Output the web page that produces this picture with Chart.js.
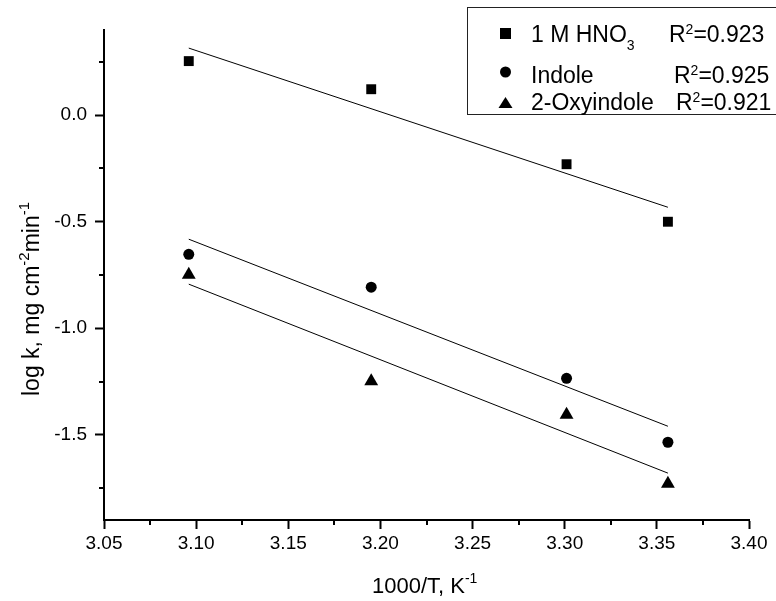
<!DOCTYPE html>
<html>
<head>
<meta charset="utf-8">
<script src="https://cdn.jsdelivr.net/npm/chart.js@4/dist/chart.umd.min.js"></script>
<style>
  html, body { margin: 0; padding: 0; background: #fff; }
  #wrap { width: 776px; height: 601px; position: relative; }
</style>
</head>
<body>
<div id="wrap"><canvas id="arrhenius"></canvas></div>
<script>
// Data
const xValues = [3.096, 3.195, 3.301, 3.356];
const hno3Values = [0.254, 0.122, -0.23, -0.50];
const indoleValues = [-0.653, -0.807, -1.235, -1.535];
const oxyindoleValues = [-0.749, -1.249, -1.406, -1.730];

// Linear fit lines (end points)
const fitX = [3.096, 3.356];
const hno3Fit = [0.315, -0.432];
const indoleFit = [-0.582, -1.46];
const oxyindoleFit = [-0.793, -1.68];

// Ticks
const xTickValues = [3.05, 3.075, 3.10, 3.125, 3.15, 3.175, 3.20, 3.225, 3.25, 3.275, 3.30, 3.325, 3.35, 3.375, 3.40];
const yTickValues = [-1.75, -1.5, -1.25, -1.0, -0.75, -0.5, -0.25, 0.0, 0.25];

// Legend
const legendNames = ["1 M HNO", "Indole", "2-Oxyindole"];
const legendR2 = ["0.923", "0.925", "0.921"];

const FONT = "'Liberation Sans', Arial, Helvetica, sans-serif";

function toPoints(xs, ys){
  return xs.map((x, i) => ({x: x, y: ys[i]}));
}

function isMajor(v, step){
  let r = v / step;
  return Math.abs(r - Math.round(r)) < 1e-6;
}

/**
 * Draws text pieces (normal / super / subscript) one after another.
 */
function drawPieces(ctx, pieces, x, y){
  pieces.forEach(p => {
    ctx.font = p.size + "px " + FONT;
    ctx.fillText(p.text, x, y + (p.dy || 0));
    x += ctx.measureText(p.text).width;
  });
  return x;
}

function drawMarker(ctx, style, x, y){
  ctx.beginPath();
  if(style == "rect"){
    ctx.rect(x - 5.5, y - 5.5, 11, 11);
  } else if(style == "circle"){
    ctx.arc(x, y, 5.5, 0, Math.PI * 2);
  } else {
    ctx.moveTo(x, y - 6);
    ctx.lineTo(x + 7, y + 5);
    ctx.lineTo(x - 7, y + 5);
    ctx.closePath();
  }
  ctx.fill();
}

const decorations = {
  id: "decorations",
  afterDraw(chart){
    const ctx = chart.ctx;
    const xs = chart.scales.x;
    const ys = chart.scales.y;
    ctx.save();
    ctx.fillStyle = "#000";
    ctx.strokeStyle = "#000";

    // minor ticks (shorter than the major ones)
    ctx.lineWidth = 2;
    ctx.beginPath();
    xTickValues.filter(v => !isMajor(v, 0.05)).forEach(v => {
      let px = Math.round(xs.getPixelForValue(v));
      ctx.moveTo(px, xs.top);
      ctx.lineTo(px, xs.top + 5);
    });
    yTickValues.filter(v => !isMajor(v, 0.5)).forEach(v => {
      let py = Math.round(ys.getPixelForValue(v));
      ctx.moveTo(ys.right, py);
      ctx.lineTo(ys.right - 5, py);
    });
    ctx.stroke();

    // axis titles
    ctx.textBaseline = "alphabetic";
    ctx.textAlign = "left";
    drawPieces(ctx, [
      {text: "1000/T, K", size: 22},
      {text: "-1", size: 14, dy: -10}
    ], 372, 593);

    ctx.save();
    ctx.translate(39, 396);
    ctx.rotate(-Math.PI / 2);
    drawPieces(ctx, [
      {text: "log k, mg cm", size: 23},
      {text: "-2", size: 15, dy: -10},
      {text: "min", size: 23},
      {text: "-1", size: 15, dy: -10}
    ], 0, 0);
    ctx.restore();

    // legend box
    ctx.lineWidth = 1;
    ctx.strokeStyle = "#222";
    ctx.strokeRect(467.5, 7.5, 320, 107);

    const rowY = [42, 83, 110];
    const markY = [33.5, 72, 103];
    const styles = ["rect", "circle", "triangle"];
    const rX = [669, 674, 676];
    legendNames.forEach((name, i) => {
      ctx.fillStyle = "#000";
      drawMarker(ctx, styles[i], 505.5, markY[i]);
      let pieces = [{text: name, size: 23}];
      if(i == 0){ pieces.push({text: "3", size: 14, dy: 8}); }
      drawPieces(ctx, pieces, 531, rowY[i]);
      drawPieces(ctx, [
        {text: "R", size: 23},
        {text: "2", size: 14, dy: -8},
        {text: "=" + legendR2[i], size: 23}
      ], rX[i], rowY[i]);
    });
    ctx.restore();
  }
};

const ctx = document.getElementById("arrhenius");

const scatterBase = {
  showLine: false,
  backgroundColor: "#000",
  borderColor: "#000",
  borderWidth: 0
};
const lineBase = {
  showLine: true,
  borderColor: "#000",
  borderWidth: 1,
  pointRadius: 0,
  fill: false
};

new Chart(ctx, {
  type: "scatter",
  data: {
    datasets: [
      Object.assign({label: "1 M HNO3 fit", data: toPoints(fitX, hno3Fit)}, lineBase),
      Object.assign({label: "Indole fit", data: toPoints(fitX, indoleFit)}, lineBase),
      Object.assign({label: "2-Oxyindole fit", data: toPoints(fitX, oxyindoleFit)}, lineBase),
      Object.assign({label: "1 M HNO3", data: toPoints(xValues, hno3Values),
        pointStyle: "rect", pointRadius: 7}, scatterBase),
      Object.assign({label: "Indole", data: toPoints(xValues, indoleValues),
        pointStyle: "circle", pointRadius: 5.5}, scatterBase),
      Object.assign({label: "2-Oxyindole", data: toPoints(xValues, oxyindoleValues),
        pointStyle: "triangle", pointRadius: 8}, scatterBase)
    ]
  },
  options: {
    responsive: true,
    maintainAspectRatio: false,
    animation: false,
    layout: { padding: {top: 30, right: 27, left: 0, bottom: 0} },
    plugins: {
      legend: { display: false },
      tooltip: { enabled: false }
    },
    scales: {
      x: {
        type: "linear",
        min: 3.05,
        max: 3.40,
        afterBuildTicks: (scale) => { scale.ticks = xTickValues.map(v => ({value: v})); },
        afterFit: (scale) => { scale.height = 81; },
        border: { display: true, color: "#000", width: 2 },
        grid: {
          drawOnChartArea: false,
          drawTicks: true,
          tickLength: 9,
          tickWidth: 2,
          tickColor: (c) => isMajor(c.tick.value, 0.05) ? "#000" : "rgba(0,0,0,0)"
        },
        ticks: {
          color: "#000",
          padding: 3,
          maxRotation: 0,
          autoSkip: false,
          font: { family: FONT, size: 19 },
          callback: (v) => isMajor(v, 0.05) ? v.toFixed(2) : ""
        }
      },
      y: {
        type: "linear",
        min: -1.9,
        max: 0.4,
        afterBuildTicks: (scale) => { scale.ticks = yTickValues.map(v => ({value: v})); },
        afterFit: (scale) => { scale.width = 104; },
        border: { display: true, color: "#000", width: 2 },
        grid: {
          drawOnChartArea: false,
          drawTicks: true,
          tickLength: 9,
          tickWidth: 2,
          tickColor: (c) => isMajor(c.tick.value, 0.5) ? "#000" : "rgba(0,0,0,0)"
        },
        ticks: {
          color: "#000",
          padding: 8,
          autoSkip: false,
          font: { family: FONT, size: 19 },
          callback: (v) => isMajor(v, 0.5) ? v.toFixed(1) : ""
        }
      }
    }
  },
  plugins: [decorations]
});
</script>
</body>
</html>
